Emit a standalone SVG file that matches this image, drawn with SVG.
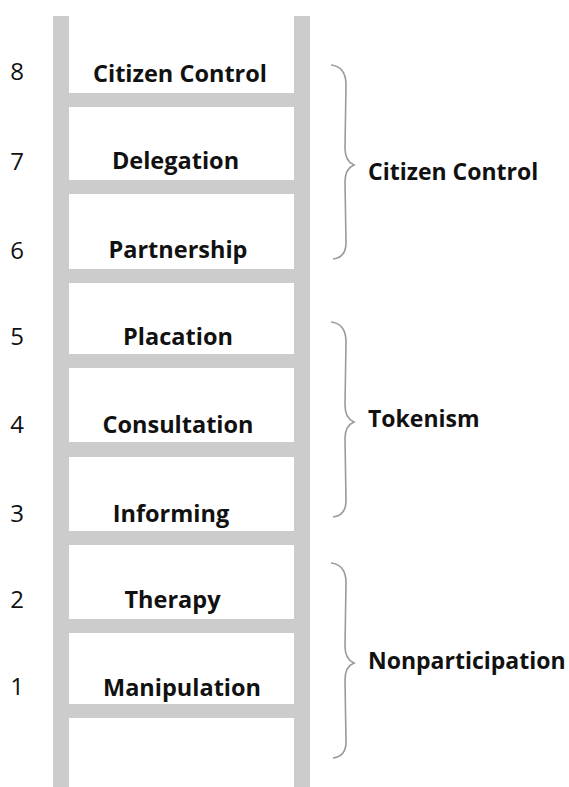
<svg xmlns="http://www.w3.org/2000/svg" width="569" height="787" viewBox="0 0 569 787">
<style>
.rail{fill:#cccccc}
.rung{fill:#cccccc}
.num{font-family:"Open Sans","Liberation Sans",sans-serif;font-size:24px;fill:#111;text-anchor:middle}
.lbl{font-family:"Open Sans","Liberation Sans",sans-serif;font-size:23.5px;font-weight:bold;fill:#111;text-anchor:middle}
.grp{font-family:"Open Sans","Liberation Sans",sans-serif;font-size:23px;font-weight:bold;fill:#111}
.brace{fill:none;stroke:#9a9a9a;stroke-width:1.6}
</style>
<rect fill="#ffffff" x="0" y="0" width="569" height="787"/>
<g id="ladder">
<rect class="rail" x="53" y="16" width="16" height="771"/>
<rect class="rail" x="294" y="16" width="16" height="771"/>
<rect class="rung" x="69" y="93" width="225" height="14"/>
<rect class="rung" x="69" y="180" width="225" height="14"/>
<rect class="rung" x="69" y="269" width="225" height="14"/>
<rect class="rung" x="69" y="354" width="225" height="14"/>
<rect class="rung" x="69" y="442" width="225" height="15"/>
<rect class="rung" x="69" y="531" width="225" height="14"/>
<rect class="rung" x="69" y="619" width="225" height="14"/>
<rect class="rung" x="69" y="704" width="225" height="14"/>
</g>
<g id="rung8"><text class="num" x="17" y="80">8</text><text class="lbl" x="180" y="82">Citizen Control</text></g>
<g id="rung7"><text class="num" x="17" y="170">7</text><text class="lbl" x="175.5" y="169">Delegation</text></g>
<g id="rung6"><text class="num" x="17" y="259">6</text><text class="lbl" x="178" y="258">Partnership</text></g>
<g id="rung5"><text class="num" x="17" y="345">5</text><text class="lbl" x="178" y="345">Placation</text></g>
<g id="rung4"><text class="num" x="17" y="433">4</text><text class="lbl" x="178" y="433">Consultation</text></g>
<g id="rung3"><text class="num" x="17" y="522">3</text><text class="lbl" x="171" y="522">Informing</text></g>
<g id="rung2"><text class="num" x="17" y="608">2</text><text class="lbl" x="172.5" y="608">Therapy</text></g>
<g id="rung1"><text class="num" x="17" y="695">1</text><text class="lbl" x="182" y="696">Manipulation</text></g>
<g id="braces">
<path class="brace" d="M331,65 C341,66 346,72 346,85 L345,148 C345,158 349,163 354,165 C349,167 345,172 345,182 L346,243 C346,253 341,258 333,259"/>
<path class="brace" d="M331,322 C341,323 346,329 346,342 L345,405 C345,415 349,420 354,422 C349,424 345,429 345,439 L346,501 C346,511 341,516 333,517"/>
<path class="brace" d="M331,563 C341,564 346,570 346,583 L345,646 C345,656 349,661 354,663 C349,665 345,670 345,680 L346,742 C346,752 341,757 333,758"/>
</g>
<g id="group-citizen-control"><text class="grp" x="368" y="180">Citizen Control</text></g>
<g id="group-tokenism"><text class="grp" x="368" y="427">Tokenism</text></g>
<g id="group-nonparticipation"><text class="grp" x="368" y="669">Nonparticipation</text></g>
</svg>
